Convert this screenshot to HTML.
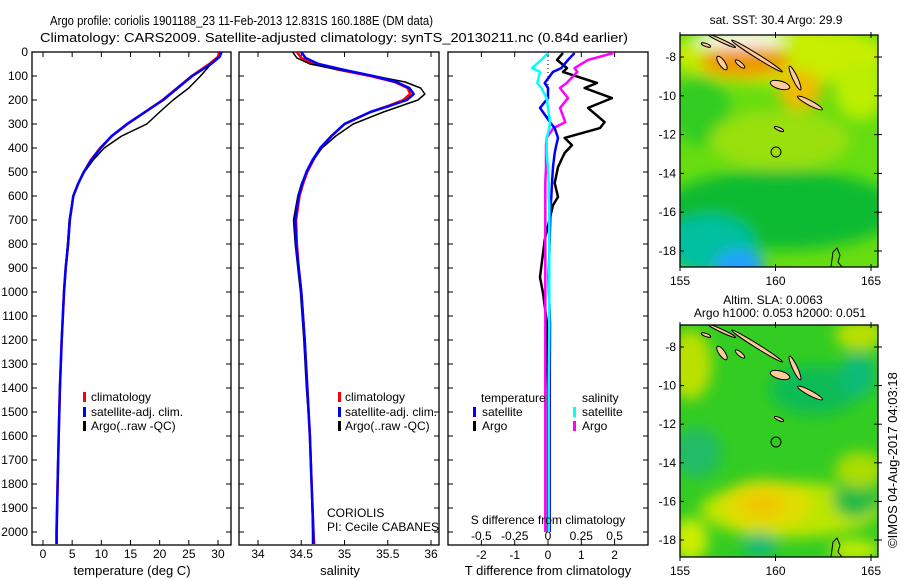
<!DOCTYPE html>
<html><head><meta charset="utf-8"><style>
html,body{margin:0;padding:0;background:#fff;overflow:hidden;width:900px;height:580px;}
svg{display:block;font-family:"Liberation Sans",sans-serif;}
</style></head><body>
<svg id="fig" width="900" height="580" viewBox="0 0 900 580">
<defs>
<filter id="blur1" x="-50%" y="-50%" width="200%" height="200%"><feGaussianBlur stdDeviation="7"/></filter>
<clipPath id="clipM1"><rect x="680" y="35" width="198" height="232"/></clipPath>
<clipPath id="clipM2"><rect x="680" y="325" width="198" height="232"/></clipPath>
<clipPath id="clipP1"><rect x="32" y="52" width="199" height="493"/></clipPath>
<clipPath id="clipP2"><rect x="239" y="52" width="200" height="493"/></clipPath>
<clipPath id="clipP3"><rect x="448" y="52" width="200" height="493"/></clipPath>
</defs>
<text x="50" y="25" font-size="13" textLength="383" lengthAdjust="spacingAndGlyphs">Argo profile: coriolis 1901188_23 11-Feb-2013 12.831S 160.188E (DM data)</text>
<text x="40" y="42" font-size="13" textLength="588" lengthAdjust="spacingAndGlyphs">Climatology: CARS2009. Satellite-adjusted climatology: synTS_20130211.nc (0.84d earlier)</text>
<g id="p1"></g>
<g id="p2"></g>
<g id="p3"></g>
<g id="maps"></g>
<text x="0" y="0" font-size="13" transform="translate(897,548) rotate(-90)">©IMOS 04-Aug-2017 04:03:18</text>
</svg>
<script>
// ---- data ----
const depthClim = [0,20,50,100,150,200,250,300,350,400,450,500,550,600,700,800,900,1000,1200,1400,1600,1800,2000,2050];
const tempClim  = [30.2,30,28.5,25.5,23,20.5,17.5,14.5,11.8,9.8,8.2,7.0,6.0,5.2,4.6,4.3,3.9,3.6,3.2,2.9,2.7,2.5,2.3,2.3];
const tempSat   = [30.6,30.3,28.8,25.6,23.1,20.6,17.5,14.4,11.8,9.9,8.3,7.0,6.0,5.2,4.6,4.3,3.9,3.6,3.2,2.9,2.7,2.5,2.35,2.35];
const depthArgo = [0,20,50,100,150,200,250,300,350,400,450,500,550,600,700,800,900,1000,1200,1400,1600,1800,2000];
const tempArgo  = [30.4,30.3,28.8,27,25,22.3,20,17.8,13.5,10.5,8.6,7.1,6.0,5.2,4.5,4.2,3.85,3.6,3.2,2.9,2.7,2.5,2.35];
const salClimDepth = [0,25,50,75,100,125,150,175,200,225,250,300,350,400,450,500,550,600,700,800,900,1000,1200,1400,1600,1800,2000,2050];
const salClim   = [34.45,34.5,34.65,34.95,35.3,35.58,35.73,35.76,35.68,35.5,35.3,35.0,34.85,34.72,34.64,34.57,34.52,34.48,34.44,34.45,34.47,34.5,34.54,34.57,34.6,34.62,34.64,34.65];
const salSat    = [34.5,34.55,34.7,35.0,35.33,35.6,35.75,35.8,35.72,35.52,35.3,35.0,34.85,34.72,34.63,34.56,34.51,34.47,34.43,34.44,34.47,34.5,34.54,34.57,34.6,34.62,34.64,34.64];
const salArgo   = [34.4,34.45,34.6,34.95,35.35,35.7,35.88,35.93,35.85,35.65,35.45,35.1,34.9,34.74,34.64,34.56,34.5,34.46,34.41,34.43,34.46,34.49,34.53,34.56,34.6,34.62,34.63,34.63];
const diffDepth = [4,33,67,83,129,150,192,233,292,317,358,388,421,479,546,604,638,783,938,1004,1129,1400,1700,2000];
const dTArgo    = [0.45,0.27,0.57,0.45,1.47,1.1,1.92,1.2,1.7,1.56,0.5,0.72,0.5,0.3,0.2,0.3,0.15,-0.1,-0.24,-0.15,-0.03,0,0,0];
const dTSat     = [0.8,0.6,0.4,0.15,-0.1,0,0,-0.24,0.06,0.2,0.3,0.25,0.2,0.15,0.12,0.1,0.08,0.05,0.02,0.03,0.06,0.05,0.05,0.05];
const dSArgo    = [0.49,0.3,0.2,0.22,0.14,0.09,0.15,0.09,0.13,0.04,-0.01,-0.015,-0.015,-0.015,-0.02,-0.02,-0.02,-0.02,-0.02,-0.02,-0.02,-0.02,-0.02,-0.02];
const dSSat     = [0,-0.05,-0.12,-0.06,-0.08,-0.05,-0.01,0,0.015,0.01,-0.01,-0.01,-0.01,0,0.005,0.005,0.01,0.01,0.01,0.01,0.01,0.005,0.005,0.005];
const depthTicks = [0,100,200,300,400,500,600,700,800,900,1000,1100,1200,1300,1400,1500,1600,1700,1800,1900,2000];
const tTicks = [0,5,10,15,20,25,30];
const sTicks = [34,34.5,35,35.5,36];
const sTickLabels = ["34","34.5","35","35.5","36"];
const dTTicks = [-2,-1,0,1,2];
const dSTicks = [-0.5,-0.25,0,0.25,0.5];
const dSTickLabels = ["-0.5","-0.25","0","0.25","0.5"];
const latTicks = [-8,-10,-12,-14,-16,-18];
const lonTicks = [155,160,165];

const NS='http://www.w3.org/2000/svg';
function mk(tag,attrs,parent){const e=document.createElementNS(NS,tag);for(const k in attrs)e.setAttribute(k,attrs[k]);if(parent)parent.appendChild(e);return e;}
const yD = d => 52 + d*0.24;
const xT = t => 43 + t*5.833;
const xS = s => 258 + (s-34)*86.5;
const xDT = t => 548 + t*33.3;
const xDS = s => 548 + s*133.2;
const TOP=52,BOT=545;

function frame(g,x0,x1,xticks,xf,labels,xlabelY){
  const r=mk('rect',{x:x0,y:TOP,width:x1-x0,height:BOT-TOP,fill:'none',stroke:'#000','stroke-width':1.3},g);
  
  
  depthTicks.forEach(d=>{
    mk('line',{x1:x0,x2:x0+5,y1:yD(d),y2:yD(d),stroke:'#000'},g);
    mk('line',{x1:x1-5,x2:x1,y1:yD(d),y2:yD(d),stroke:'#000'},g);
  });
  xticks.forEach((v,i)=>{
    const x=xf(v);
    mk('line',{x1:x,x2:x,y1:TOP,y2:TOP+5,stroke:'#000'},g);
    mk('line',{x1:x,x2:x,y1:BOT-5,y2:BOT,stroke:'#000'},g);
    if(labels){const t=mk('text',{x:x,y:xlabelY,'font-size':12,'text-anchor':'middle'},g);t.textContent=labels[i];
      
      }
  });
}
function line(g,xs,ds,xf,color,w,name,clip){
  const pts=xs.map((v,i)=>xf(v).toFixed(1)+','+yD(ds[i]).toFixed(1)).join(' ');
  const p=mk('polyline',{points:pts,fill:'none',stroke:color,'stroke-width':w,'stroke-linejoin':'round','clip-path':clip},g);
  
  
}
function txt(g,x,y,s,name,size,anchor){const t=mk('text',{x:x,y:y,'font-size':size||12,'text-anchor':anchor||'start'},g);t.textContent=s;
  
  return t;}
function marker(g,x,y,color){const r=mk('rect',{x:x,y:y-5,width:3,height:10,fill:color},g);
  
  }

// panel 1
const p1=document.getElementById('p1');
frame(p1,32,231,tTicks,xT,tTicks.map(String),558);
depthTicks.forEach(d=>{txt(p1,28,yD(d)+4,String(d),'y-tick-label',12,'end');});
line(p1,tempClim,depthClim,xT,'#f00',2.5,'temp-climatology-line','url(#clipP1)');
line(p1,tempArgo,depthArgo,xT,'#000',1.5,'temp-argo-line','url(#clipP1)');
line(p1,tempSat,depthClim,xT,'#00f',2.5,'temp-satellite-line','url(#clipP1)');
txt(p1,132,575,'temperature (deg C)','x-axis-title',13,'middle');
marker(p1,83,397,'#f00');txt(p1,91,401,'climatology','legend-climatology');
marker(p1,83,412,'#00f');txt(p1,91,416,'satellite-adj. clim.','legend-satellite');
marker(p1,83,426,'#000');txt(p1,91,430,'Argo(..raw -QC)','legend-argo');

// panel 2
const p2=document.getElementById('p2');
frame(p2,239,439,sTicks,xS,sTickLabels,558);
line(p2,salClim,salClimDepth,xS,'#f00',2.5,'sal-climatology-line','url(#clipP2)');
line(p2,salArgo,salClimDepth,xS,'#000',1.5,'sal-argo-line','url(#clipP2)');
line(p2,salSat,salClimDepth,xS,'#00f',2.5,'sal-satellite-line','url(#clipP2)');
txt(p2,340,575,'salinity','x-axis-title',13,'middle');
marker(p2,338,397,'#f00');txt(p2,345,401,'climatology','legend-climatology');
marker(p2,338,412,'#00f');txt(p2,345,416,'satellite-adj. clim.','legend-satellite');
marker(p2,338,426,'#000');txt(p2,345,430,'Argo(..raw -QC)','legend-argo');
txt(p2,327,517,'CORIOLIS','data-centre-label');
txt(p2,327,531,'PI: Cecile CABANES','pi-label');

// panel 3
const p3=document.getElementById('p3');
frame(p3,448,648,dTTicks,xDT,dTTicks.map(String),559);
dSTicks.forEach((v,i)=>{txt(p3,xDS(v),540,dSTickLabels[i],'s-tick-label',12,'middle');});
mk('line',{x1:548,x2:548,y1:TOP,y2:yD(300),stroke:'#000','stroke-dasharray':'1,3'},p3);
line(p3,dTArgo,diffDepth,xDT,'#000',2.5,'dT-argo-line','url(#clipP3)');
line(p3,dSArgo,diffDepth,xDS,'#f0f',2.5,'dS-argo-line','url(#clipP3)');
line(p3,dTSat,diffDepth,xDT,'#00f',2.5,'dT-satellite-line','url(#clipP3)');
line(p3,dSSat,diffDepth,xDS,'#0ff',2.5,'dS-satellite-line','url(#clipP3)');
txt(p3,481,402,'temperature','legend-temperature-heading');
marker(p3,473,412,'#00f');txt(p3,482,416,'satellite','legend-t-satellite');
marker(p3,473,426,'#000');txt(p3,482,430,'Argo','legend-t-argo');
txt(p3,582,402,'salinity','legend-salinity-heading');
marker(p3,573,412,'#0ff');txt(p3,582,416,'satellite','legend-s-satellite');
marker(p3,573,426,'#f0f');txt(p3,582,430,'Argo','legend-s-argo');
txt(p3,548,524,'S difference from climatology','s-axis-title',12,'middle');
txt(p3,548,575,'T difference from climatology','t-axis-title',13,'middle');

// maps
const mg=document.getElementById('maps');
const mx = lon => 680 + (lon-155)*19.1;
function map(y0,latY,blobs,base,title,name){
  const g=mk('g',{},mg);
  
  
  const clip = y0===35?'url(#clipM1)':'url(#clipM2)';
  const inner=mk('g',{'clip-path':clip},g);
  mk('rect',{x:680,y:y0,width:198,height:232,fill:base},inner);
  const bg=mk('g',{filter:'url(#blur1)'},inner);
  blobs.forEach(b=>mk('ellipse',{cx:b[0],cy:b[1],rx:b[2],ry:b[3],fill:b[4]},bg));
  const off=y0-35;
  const isl=mk('g',{transform:'translate(0,'+off+')',fill:'#fc9','stroke':'#000','stroke-width':1},inner);
  
  
  [[757,56,30,2,32],[722,41,15,1.5,25],[722,63,8,3,55],[740,64,6,2,40],[780,85,10,4,15],[795,78,13,2.5,65],[810,103,14,2.5,28],[779,129,5,1.5,25],[706,45,5,1.5,20]].forEach(e=>{
    mk('ellipse',{cx:e[0],cy:e[1],rx:e[2],ry:e[3],transform:'rotate('+e[4]+' '+e[0]+' '+e[1]+')'},isl);
  });
  mk('path',{d:'M831 267 L833 252 L837 248 L840 255 L838 262 L842 267',fill:'none',stroke:'#000'},isl);
  const c=mk('circle',{cx:776,cy:152+off,r:5,fill:'none',stroke:'#000','stroke-width':1},inner);
  
  
  mk('rect',{x:680,y:y0,width:198,height:232,fill:'none',stroke:'#000','stroke-width':1.3},g);
  latTicks.forEach(l=>{const y=latY(l);
    mk('line',{x1:680,x2:684,y1:y,y2:y,stroke:'#000'},g);
    mk('line',{x1:874,x2:882,y1:y,y2:y,stroke:'#000'},g);
    txt(g,676,y+4,String(l),'lat-tick-label',12,'end');});
  lonTicks.forEach(l=>{const x=mx(l);
    mk('line',{x1:x,x2:x,y1:y0-3,y2:y0+3,stroke:'#000'},g);
    mk('line',{x1:x,x2:x,y1:y0+229,y2:y0+236,stroke:'#000'},g);
    txt(g,x,y0+250,String(l),'lon-tick-label',12,'middle');});
  title.forEach(t=>txt(g,t[0],t[1],t[2],'map-title',12,'middle'));
}
map(35,l=>57+(-8-l)*19.4,[
  [780,55,110,30,'#c8ee00'],[745,62,45,16,'#ee9900'],[800,90,22,20,'#eebb00'],[740,40,45,7,'#ffffff'],
  [700,110,30,35,'#33cc22'],[780,140,70,30,'#99e010'],[860,90,25,30,'#bbee00'],
  [780,210,120,40,'#11bb33'],[710,245,45,30,'#00c0a0'],[740,265,25,15,'#22a0ff']
],'#66dd11',[[776,24,'sat. SST: 30.4 Argo: 29.9']],'sst-map');
map(325,l=>347+(-8-l)*19.3,[
  [690,365,22,35,'#bbe000'],[860,335,25,15,'#bbe000'],[815,390,45,25,'#11bb55'],[858,375,18,22,'#11bb77'],
  [697,453,25,25,'#22bb66'],[790,510,90,28,'#bbe600'],[765,505,45,25,'#e0dd00'],[762,505,22,13,'#f0c800'],
  [855,500,22,18,'#22bb44'],[860,470,25,18,'#aadd00'],[760,545,18,12,'#11bb77'],[690,540,18,22,'#ccee00'],[855,550,25,10,'#ccee00']
],'#33cc22',[[773,304,'Altim. SLA: 0.0063'],[780,317,'Argo h1000: 0.053 h2000: 0.051']],'sla-map');
</script>
</body></html>
